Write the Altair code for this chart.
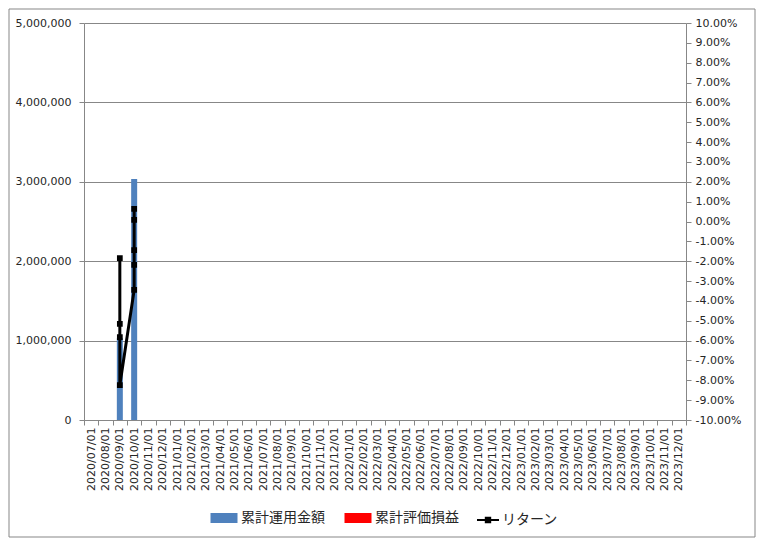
import altair as alt
import pandas as pd

# ---- data ----
months = [
    "2020/07/01", "2020/08/01", "2020/09/01", "2020/10/01", "2020/11/01", "2020/12/01",
    "2021/01/01", "2021/02/01", "2021/03/01", "2021/04/01", "2021/05/01", "2021/06/01",
    "2021/07/01", "2021/08/01", "2021/09/01", "2021/10/01", "2021/11/01", "2021/12/01",
    "2022/01/01", "2022/02/01", "2022/03/01", "2022/04/01", "2022/05/01", "2022/06/01",
    "2022/07/01", "2022/08/01", "2022/09/01", "2022/10/01", "2022/11/01", "2022/12/01",
    "2023/01/01", "2023/02/01", "2023/03/01", "2023/04/01", "2023/05/01", "2023/06/01",
    "2023/07/01", "2023/08/01", "2023/09/01", "2023/10/01", "2023/11/01", "2023/12/01",
]

bar_months = ["2020/09/01", "2020/10/01"]
bar_amounts = [1030000, 3035000]          # 累計運用金額

ret_months = ["2020/09/01", "2020/09/01", "2020/09/01", "2020/09/01",
              "2020/10/01", "2020/10/01", "2020/10/01", "2020/10/01", "2020/10/01"]
ret_values = [-0.0184, -0.0516, -0.0582, -0.0824,
              -0.0345, -0.0219, -0.0144, 0.0008, 0.0063]   # リターン

left_ticks = [0, 1000000, 2000000, 3000000, 4000000, 5000000]
right_ticks = [-0.10, -0.09, -0.08, -0.07, -0.06, -0.05, -0.04, -0.03, -0.02, -0.01,
               0.0, 0.01, 0.02, 0.03, 0.04, 0.05, 0.06, 0.07, 0.08, 0.09, 0.10]

series_names = ["累計運用金額", "累計評価損益"]
series_colors = ["#4f81bd", "#ff0000"]

bar_df = pd.DataFrame({"month": bar_months, "amount": bar_amounts,
                       "series": [series_names[0]] * len(bar_months)})
ret_df = pd.DataFrame({"month": ret_months, "ret": ret_values,
                       "seq": list(range(len(ret_values))),
                       "series": ["リターン"] * len(ret_values)})

FONT = "DejaVu Sans"
JFONT = "Noto Sans CJK JP"
GRAY = "#878787"
TXT = "#262626"

xscale = alt.Scale(domain=months, paddingInner=0, paddingOuter=0)
xaxis = alt.Axis(title=None, labelAngle=270, tickBand="extent", labelFont=FONT,
                 labelFontSize=11, labelColor=TXT, domainColor=GRAY, tickColor=GRAY,
                 tickSize=5, labelPadding=2, grid=False, labelOverlap=False)

bars = alt.Chart(bar_df).mark_bar(size=6).encode(
    x=alt.X("month:O", scale=xscale, axis=xaxis),
    y=alt.Y("amount:Q", scale=alt.Scale(domain=[0, 5000000], nice=False),
            axis=alt.Axis(title=None, values=left_ticks, grid=True,
                          labelExpr="format(datum.value, ',.0f')",
                          gridColor=GRAY, domainColor=GRAY, tickColor=GRAY, tickSize=5,
                          labelFont=FONT, labelFontSize=11, labelColor=TXT, labelPadding=8)),
    color=alt.Color("series:N",
                    scale=alt.Scale(domain=series_names, range=series_colors),
                    legend=alt.Legend(title=None, orient="none", legendX=130, legendY=485,
                                      direction="horizontal",
                                      symbolType="M-1.35,-0.5H1.35V0.5H-1.35Z",
                                      symbolSize=400, symbolStrokeWidth=0,
                                      labelFont=JFONT, labelFontSize=14, labelColor=TXT,
                                      labelOffset=7, columnPadding=19)),
)

line = alt.Chart(ret_df).mark_line(
    strokeWidth=3,
    point=alt.OverlayMarkDef(shape="square", size=14, filled=True, color="black"),
).encode(
    x=alt.X("month:O", scale=xscale, axis=xaxis),
    y=alt.Y("ret:Q", scale=alt.Scale(domain=[-0.10, 0.10], nice=False),
            axis=alt.Axis(title=None, orient="right", values=right_ticks, grid=False,
                          labelExpr="replace(format(datum.value, '.2%'), '\u2212', '-')",
                          domainColor=GRAY, tickColor=GRAY, tickSize=5,
                          labelFont=FONT, labelFontSize=11, labelColor=TXT, labelPadding=4)),
    order="seq:Q",
    stroke=alt.Stroke("series:N",
                      scale=alt.Scale(domain=["リターン"], range=["black"]),
                      legend=alt.Legend(title=None, orient="none", legendX=392, legendY=485,
                                        symbolType="M-1,0H1M-0.2,-0.2H0.2V0.2H-0.2Z",
                                        symbolSize=484, symbolStrokeWidth=2,
                                        symbolStrokeColor="black",
                                        labelFont=JFONT, labelFontSize=14, labelColor=TXT,
                                        labelOffset=2)),
)

frame = alt.Chart(pd.DataFrame({"k": [0]})).mark_rect(
    fill=None, stroke=GRAY, strokeWidth=1
).encode(x=alt.value(-75), x2=alt.value(671), y=alt.value(-14), y2=alt.value(514))

chart = alt.layer(bars, line, frame).resolve_scale(
    y="independent", color="independent", stroke="independent"
).properties(
    width=602, height=397,
    autosize=alt.AutoSizeParams(type="none"),
    padding={"left": 76, "top": 15, "right": 71, "bottom": 119},
    background="white",
).configure_view(stroke=None)

chart.save("out.html", embed_options={"renderer": "svg", "actions": False})
